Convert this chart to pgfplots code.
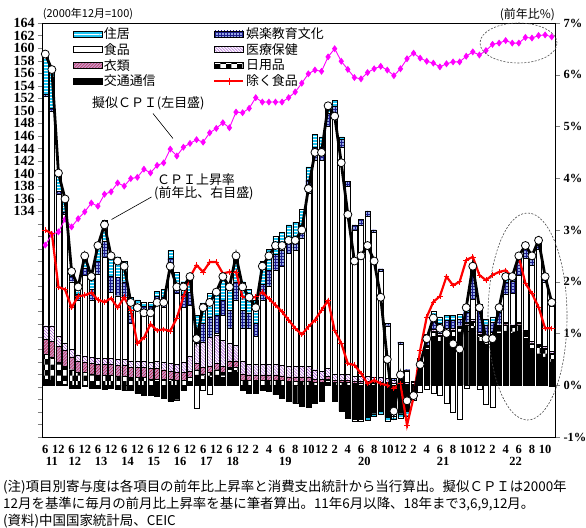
\documentclass[border=0pt]{standalone}
\usepackage{fontspec}
\setmainfont{Liberation Serif}
\newfontfamily\jp{Noto Sans CJK JP}
\usepackage{pgfplots}
\pgfplotsset{compat=1.18}
\usepackage{pgfplotstable}
\usetikzlibrary{patterns}

\definecolor{hou}{RGB}{30,195,240}
\definecolor{clo}{RGB}{205,150,205}
\definecolor{clol}{RGB}{170,20,40}
\definecolor{recb}{RGB}{30,30,140}
\definecolor{recf}{RGB}{150,170,230}
\definecolor{medp}{RGB}{150,60,200}
\definecolor{mag}{RGB}{255,0,255}

\tikzset{
  bT/.style={fill=black, draw=black, line width=0.4bp},
  bD/.style={fill=black, draw=black, line width=0.4bp, postaction={pattern=checkerboard, pattern color=white}},
  bC/.style={fill=clo, draw=black, line width=0.4bp, postaction={pattern=north east lines, pattern color=clol}},
  bM/.style={fill=white, draw=black, line width=0.4bp, postaction={pattern=north west lines, pattern color=medp}},
  bF/.style={fill=white, draw=black, line width=0.4bp},
  bR/.style={fill=recf, draw=black, line width=0.4bp, postaction={pattern=grid, pattern color=recb}},
  bH/.style={fill=hou, draw=black, line width=0.4bp, postaction={pattern=horizontal lines, pattern color=white}},
}

\pgfplotsset{
  base/.style={width=513bp, height=414bp, scale only axis,
    xmin=-0.5, xmax=77.5, at={(42bp,91bp)}, anchor=south west},
  /pgfplots/barleg/.style={/pgfplots/legend image code/.code={\draw[##1] (0bp,-3bp) rectangle (29bp,3bp);}},
  /pgfplots/lineleg/.style={/pgfplots/legend image code/.code={\draw[mark repeat=2,mark phase=2,##1] plot coordinates {(0bp,0bp) (14.5bp,0bp) (29bp,0bp)};}},
}

% i: 0-30 = 2011/6 ... 2018/12 quarterly, 31-77 = 2019/1 ... 2022/11 monthly
% T 交通通信, D 日用品, C 衣類, M 医療保健, F 食品, R 娯楽教育文化, H 住居
\pgfplotstableread{
i T D C M F R H cpi nf pc
0 0.12 0.48 0.29 0.26 4.43 0.05 0.77 6.4 3.00 128.6
1 0.10 0.45 0.30 0.30 4.15 0.05 0.75 6.1 2.93 130.3
2 0.05 0.40 0.30 0.20 2.75 0.05 0.35 4.1 1.90 130.7
3 0.02 0.35 0.30 0.15 2.48 0.05 0.25 3.6 1.85 132.7
4 -0.05 0.30 0.25 0.15 1.30 0.10 0.15 2.2 1.50 131.5
5 -0.05 0.25 0.22 0.12 1.06 0.10 0.20 1.9 1.72 132.8
6 -0.02 0.25 0.20 0.12 1.55 0.15 0.25 2.5 1.74 133.9
7 -0.05 0.22 0.20 0.12 1.11 0.20 0.30 2.1 1.79 135.3
8 -0.05 0.20 0.20 0.12 1.63 0.25 0.35 2.7 1.65 134.8
9 -0.08 0.20 0.20 0.12 1.96 0.30 0.40 3.1 1.61 136.7
10 -0.05 0.20 0.20 0.12 1.28 0.30 0.45 2.5 1.68 137.1
11 -0.08 0.18 0.20 0.12 1.23 0.35 0.40 2.4 1.50 138.5
12 -0.10 0.18 0.20 0.12 1.20 0.30 0.40 2.3 1.70 138.0
13 -0.10 0.15 0.20 0.12 0.73 0.20 0.30 1.6 1.45 139.2
14 -0.15 0.15 0.20 0.12 1.01 0.05 0.12 1.5 0.81 139.4
15 -0.20 0.15 0.20 0.12 0.95 0.10 0.08 1.4 0.92 140.7
16 -0.20 0.12 0.20 0.12 0.93 0.15 0.08 1.4 1.18 140.1
17 -0.22 0.12 0.20 0.15 1.10 0.15 0.10 1.6 1.06 141.3
18 -0.25 0.12 0.18 0.15 1.05 0.20 0.15 1.6 1.08 141.7
19 -0.30 0.12 0.15 0.15 1.83 0.20 0.15 2.3 1.05 143.9
20 -0.28 0.10 0.15 0.15 1.38 0.20 0.20 1.9 1.30 142.8
21 -0.10 0.10 0.15 0.20 1.05 0.25 0.25 1.9 1.71 144.2
22 0.05 0.10 0.12 0.30 0.98 0.25 0.30 2.1 2.09 144.8
23 0.20 0.10 0.12 0.40 -0.45 0.23 0.30 0.9 2.32 145.4
24 0.12 0.10 0.12 0.50 -0.09 0.35 0.40 1.5 2.19 145.0
25 0.15 0.10 0.12 0.55 -0.17 0.40 0.45 1.6 2.38 146.5
26 0.20 0.10 0.12 0.55 0.03 0.35 0.45 1.8 2.38 147.2
27 0.15 0.10 0.12 0.50 0.48 0.30 0.45 2.1 2.16 148.1
28 0.25 0.10 0.12 0.35 0.28 0.35 0.45 1.9 2.19 147.3
29 0.25 0.10 0.12 0.30 0.88 0.35 0.50 2.5 2.19 149.8
30 -0.10 0.10 0.12 0.25 0.63 0.35 0.55 1.9 1.71 149.7
31 -0.15 0.10 0.10 0.20 0.70 0.30 0.45 1.7 1.67 150.4
32 -0.15 0.10 0.10 0.20 0.55 0.25 0.45 1.5 1.71 152.1
33 -0.10 0.10 0.10 0.20 1.25 0.30 0.45 2.3 1.80 151.4
34 -0.12 0.10 0.10 0.20 1.52 0.30 0.40 2.5 1.67 151.4
35 -0.18 0.10 0.10 0.20 1.83 0.30 0.35 2.7 1.55 151.4
36 -0.25 0.10 0.08 0.20 1.92 0.30 0.35 2.7 1.42 151.4
37 -0.30 0.08 0.08 0.20 2.19 0.25 0.30 2.8 1.26 152.1
38 -0.35 0.08 0.08 0.20 2.24 0.25 0.30 2.8 1.10 153.0
39 -0.40 0.08 0.08 0.20 2.49 0.25 0.30 3.0 0.98 154.4
40 -0.42 0.08 0.08 0.20 3.36 0.25 0.25 3.8 1.13 155.9
41 -0.35 0.06 0.06 0.18 4.05 0.25 0.25 4.5 1.26 156.5
42 -0.30 0.06 0.06 0.15 4.08 0.25 0.20 4.5 1.45 156.3
43 0.05 0.06 0.06 0.15 4.68 0.25 0.15 5.4 1.64 158.6
44 -0.30 0.06 0.04 0.12 4.98 0.20 0.10 5.2 1.06 159.9
45 -0.50 0.05 0.04 0.12 4.39 0.15 0.05 4.3 0.81 157.9
46 -0.62 0.05 0.04 0.12 3.63 0.10 -0.02 3.3 0.42 156.6
47 -0.65 0.04 0.03 0.10 2.83 0.10 -0.05 2.4 0.39 155.3
48 -0.65 0.04 0.03 0.10 2.93 0.10 -0.05 2.5 0.23 155.1
49 -0.62 0.04 0.03 0.10 3.10 0.10 -0.05 2.7 0.03 156.1
50 -0.55 0.04 0.02 0.10 2.79 0.05 -0.05 2.4 0.10 156.7
51 -0.50 0.03 0.02 0.10 2.05 0.05 -0.05 1.7 0.03 157.1
52 -0.62 0.03 0.02 0.08 1.02 0.05 -0.08 0.5 0.00 156.5
53 -0.30 0.03 0.01 0.05 -0.30 0.05 -0.06 -0.5 -0.06 155.6
54 -0.55 0.03 0.01 0.05 0.70 0.05 -0.09 0.2 0.03 156.7
55 -0.50 0.02 0.00 0.03 0.23 0.02 -0.10 -0.3 -0.77 158.3
56 -0.15 0.02 0.00 0.03 -0.05 0.03 -0.08 -0.2 -0.23 159.2
57 0.35 0.05 0.00 0.03 -0.13 0.05 0.05 0.4 0.68 158.4
58 0.70 0.05 0.00 0.03 -0.08 0.10 0.10 0.9 1.32 157.9
59 0.95 0.08 0.02 0.03 -0.15 0.20 0.15 1.3 1.61 157.6
60 0.85 0.10 0.02 0.03 -0.20 0.20 0.12 1.1 1.72 157.0
61 0.95 0.10 0.02 0.03 -0.35 0.15 0.10 1.0 2.10 157.5
62 0.95 0.10 0.02 0.03 -0.52 0.15 0.10 0.8 1.93 157.8
63 1.00 0.10 0.02 0.03 -0.66 0.12 0.10 0.7 2.00 157.8
64 1.05 0.12 0.02 0.03 -0.05 0.20 0.10 1.5 2.42 158.7
65 1.10 0.12 0.02 0.03 0.40 0.50 0.10 2.3 2.48 159.4
66 0.85 0.12 0.02 0.03 -0.07 0.45 0.10 1.5 2.13 158.9
67 0.80 0.12 0.02 0.03 -0.37 0.20 0.10 0.9 2.03 159.6
68 0.85 0.12 0.02 0.03 -0.42 0.20 0.10 0.9 2.13 160.6
69 1.00 0.12 0.02 0.03 0.00 0.25 0.10 1.5 2.19 160.8
70 1.05 0.12 0.02 0.03 0.53 0.25 0.10 2.1 2.22 161.2
71 1.00 0.12 0.02 0.03 0.60 0.25 0.08 2.1 2.09 160.8
72 1.05 0.12 0.02 0.03 0.90 0.30 0.08 2.5 2.48 160.8
73 0.90 0.12 0.02 0.03 1.38 0.20 0.05 2.7 1.97 161.7
74 0.65 0.15 0.02 0.03 1.47 0.15 0.03 2.5 1.77 161.6
75 0.60 0.15 0.02 0.03 1.83 0.15 0.02 2.8 1.51 162.0
76 0.55 0.15 0.02 0.03 1.25 0.10 0.00 2.1 1.10 162.1
77 0.45 0.15 0.02 0.03 0.87 0.10 -0.02 1.6 1.10 161.8
}\data

\begin{document}
\begin{tikzpicture}
\path[use as bounding box] (0,0) rectangle (586bp,528bp);

% positive contributions, frame, right axis and x labels
\begin{axis}[base, ymin=-1, ymax=7, ybar stacked, bar width=5bp,
  axis line style={line width=0.8bp},
  ytick={-1,0,...,7}, yticklabels={-1\%,0\%,1\%,2\%,3\%,4\%,5\%,6\%,7\%},
  ytick pos=right, yticklabel pos=right, tick align=outside, major tick length=5bp,
  xtick={0,2,...,76},
  xticklabels={6,12,6,12,6,12,6,12,6,12,6,12,6,12,6,12,2,4,6,8,10,12,2,4,6,8,10,12,2,4,6,8,10,12,2,4,6,8,10},
  xtick style={draw=none},
  extra x ticks={1,4.5,8.5,12.5,16.5,20.5,24.5,28.5,36.5,48.5,60.5,71.5},
  extra x tick labels={11,12,13,14,15,16,17,18,19,20,21,22},
  extra x tick style={major tick length=0pt, tick label style={yshift=-17bp}},
  tick label style={font=\rmfamily\bfseries\fontsize{12.5}{13}\selectfont},
  ]
\addplot[bT] table[x=i, y expr={max(\thisrow{T},0)}] {\data};
\addplot[bD] table[x=i, y expr={max(\thisrow{D},0)}] {\data};
\addplot[bC] table[x=i, y expr={max(\thisrow{C},0)}] {\data};
\addplot[bM] table[x=i, y expr={max(\thisrow{M},0)}] {\data};
\addplot[bF] table[x=i, y expr={max(\thisrow{F},0)}] {\data};
\addplot[bR] table[x=i, y expr={max(\thisrow{R},0)}] {\data};
\addplot[bH] table[x=i, y expr={max(\thisrow{H},0)}] {\data};
\end{axis}

% negative contributions
\begin{axis}[base, ymin=-1, ymax=7, ybar stacked, bar width=5bp, hide axis]
\addplot[bT] table[x=i, y expr={min(\thisrow{T},0)}] {\data};
\addplot[bD] table[x=i, y expr={min(\thisrow{D},0)}] {\data};
\addplot[bC] table[x=i, y expr={min(\thisrow{C},0)}] {\data};
\addplot[bM] table[x=i, y expr={min(\thisrow{M},0)}] {\data};
\addplot[bF] table[x=i, y expr={min(\thisrow{F},0)}] {\data};
\addplot[bR] table[x=i, y expr={min(\thisrow{R},0)}] {\data};
\addplot[bH] table[x=i, y expr={min(\thisrow{H},0)}] {\data};
\end{axis}

% pseudo CPI, left axis
\begin{axis}[base, ymin=98, ymax=164, hide x axis,
  axis line style={line width=0.8bp},
  ytick pos=left, tick align=outside, major tick length=4bp,
  ytick={134,136,...,164},
  extra y ticks={98,100,...,132}, extra y tick labels={}, extra y tick style={grid=none},
  /pgf/number format/assume math mode=true,
  tick label style={font=\rmfamily\bfseries\fontsize{14}{14}\selectfont},
  ]
\addplot[mag, line width=0.9bp, mark=diamond*, mark size=2.8bp, mark options={fill=mag, draw=mag}]
  table[x=i, y=pc] {\data};
\end{axis}

% CPI and CPI excluding food, right scale, with legend
\begin{axis}[base, ymin=-1, ymax=7, hide axis,
  legend columns=2,
  legend cell align=left,
  legend style={at={(0.06,0.993)}, anchor=north west, draw=none, fill=none,
    font=\jp\fontsize{13}{13}\selectfont, row sep=0.4bp, inner sep=0pt,
    nodes={inner sep=1.5bp}},
  ]
\addlegendimage{barleg, fill=hou, draw=black, postaction={pattern=horizontal lines, pattern color=white}}
\addlegendentry{\makebox[108bp][l]{住居}}
\addlegendimage{barleg, fill=recf, draw=black, postaction={pattern=grid, pattern color=recb}}
\addlegendentry{娯楽教育文化}
\addlegendimage{barleg, fill=white, draw=black}
\addlegendentry{\makebox[108bp][l]{食品}}
\addlegendimage{barleg, fill=white, draw=black, postaction={pattern=north west lines, pattern color=medp}}
\addlegendentry{医療保健}
\addlegendimage{barleg, fill=clo, draw=black, postaction={pattern=north east lines, pattern color=clol}}
\addlegendentry{\makebox[108bp][l]{衣類}}
\addlegendimage{barleg, fill=black, draw=black, postaction={pattern=checkerboard, pattern color=white}}
\addlegendentry{日用品}
\addlegendimage{barleg, fill=black, draw=black}
\addlegendentry{\makebox[108bp][l]{交通通信}}
\addlegendimage{lineleg, red, line width=2.2bp, mark=+, mark size=3.5bp, mark options={line width=0.8bp}}
\addlegendentry{除く食品}

\addplot[forget plot, red, line width=2.2bp, mark=+, mark size=2.8bp, mark options={line width=0.8bp}]
  table[x=i, y=nf] {\data};
\addplot[forget plot, black, line width=2.8bp, mark=*, mark size=4bp, mark options={fill=white, draw=black, line width=0.8bp}]
  table[x=i, y=cpi] {\data};
\end{axis}

% annotations
\node[font=\jp\fontsize{11}{11}\selectfont, inner sep=0] at (88bp,514.5bp) {(2000年12月=100)};
\node[font=\jp\fontsize{12}{12}\selectfont, inner sep=0, anchor=east] at (555bp,513bp) {(前年比\%)};
\node[font=\jp\fontsize{13}{13}\selectfont, inner sep=0, anchor=west] at (92bp,424.5bp) {擬似ＣＰＩ(左目盛)};
\draw[line width=0.6bp] (153bp,414.5bp) -- (173bp,389.5bp);
\node[font=\jp\fontsize{13}{13}\selectfont, inner sep=0, anchor=west] at (157bp,348bp) {ＣＰＩ上昇率};
\node[font=\jp\fontsize{13}{13}\selectfont, inner sep=0, anchor=west] at (154bp,334.5bp) {(前年比、右目盛)};
\draw[line width=0.6bp] (151.5bp,331bp) -- (111.5bp,308.5bp);
\draw[dash pattern=on 2bp off 1.5bp, gray!60!black, line width=0.6bp] (518.5bp,485bp) ellipse[x radius=38.5bp, y radius=20bp];
\draw[dash pattern=on 2bp off 1.5bp, gray!60!black, line width=0.6bp] (527.5bp,211.5bp) ellipse[x radius=39.5bp, y radius=103.5bp];

% notes
\node[font=\jp\fontsize{13.5}{14}\selectfont, inner sep=0, anchor=west] at (3bp,41bp) {(注)項目別寄与度は各項目の前年比上昇率と消費支出統計から当行算出。擬似ＣＰＩは2000年};
\node[font=\jp\fontsize{13.5}{14}\selectfont, inner sep=0, anchor=west] at (3bp,24bp) {12月を基準に毎月の前月比上昇率を基に筆者算出。11年6月以降、18年まで3,6,9,12月。};
\node[font=\jp\fontsize{13.5}{14}\selectfont, inner sep=0, anchor=west] at (3bp,7bp) {(資料)中国国家統計局、CEIC};
\end{tikzpicture}
\end{document}
